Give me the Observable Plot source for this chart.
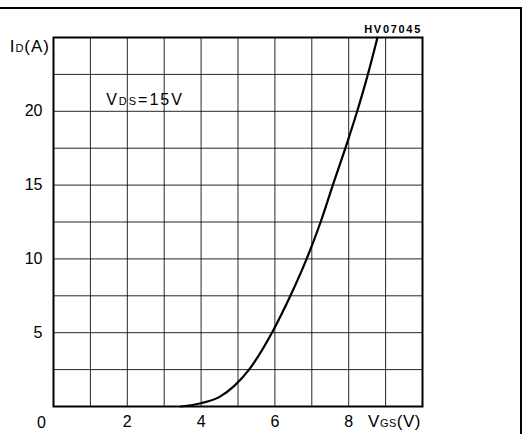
<!DOCTYPE html>
<html>
<head>
<meta charset="utf-8">
<script src="https://cdn.jsdelivr.net/npm/d3@7"></script>
<script src="https://cdn.jsdelivr.net/npm/@observablehq/plot@0.6"></script>
<style>
  html, body { margin: 0; padding: 0; background: #fff; overflow: hidden; }
  #wrap { position: relative; width: 527px; height: 434px; overflow: hidden; }
  #outer { position: absolute; left: -10px; top: 7px; width: 530px; height: 500px;
           border-top: 2px solid #000; border-right: 2px solid #000; pointer-events: none; }
  svg { position: absolute; left: 0; top: 0; }
</style>
</head>
<body>
<div id="wrap"><div id="outer"></div></div>
<script>
// Transfer characteristic: drain current vs gate-source voltage (VDS = 15 V)
const vgs = [3.45, 4.0, 4.5, 4.9, 5.3, 5.92, 6.42, 6.86, 7.24, 7.57, 7.91, 8.23, 8.52, 8.78];
const idA = [0, 0.22, 0.65, 1.4, 2.5, 5, 7.5, 10, 12.5, 15, 17.5, 20, 22.5, 25];

const xTicks = [2, 4, 6, 8];
const yTicks = [5, 10, 15, 20];
const xGrid = [1, 2, 3, 4, 5, 6, 7, 8, 9];
const yGrid = [2.5, 5, 7.5, 10, 12.5, 15, 17.5, 20, 22.5];
const originLabel = ["0"];

const data = vgs.map((v, i) => ({v, i: idA[i]}));
const font = "'Liberation Sans', Arial, Helvetica, sans-serif";

const chart = Plot.plot({
  width: 527,
  height: 434,
  marginLeft: 53,
  marginRight: 105,
  marginTop: 37,
  marginBottom: 28,
  x: {domain: [0, 10]},
  y: {domain: [0, 25]},
  style: {fontFamily: font, fontSize: "16px", background: "transparent", color: "#000"},
  marks: [
    Plot.gridX(xGrid, {stroke: "#000", strokeOpacity: 0.85, strokeWidth: 1}),
    Plot.gridY(yGrid, {stroke: "#000", strokeOpacity: 0.85, strokeWidth: 1}),
    Plot.axisX(xTicks, {tickSize: 0, tickPadding: 9, label: null, fontSize: 16}),
    Plot.axisY(yTicks, {tickSize: 0, tickPadding: 11, label: null, fontSize: 16}),
    Plot.text(originLabel, {x: 0, y: 0, text: d => d, dx: -12, dy: 16, fontSize: 16}),
    Plot.line(data, {x: "v", y: "i", curve: "monotone-x", stroke: "#000", strokeWidth: 2.2}),
    Plot.frame({stroke: "#000", strokeWidth: 2})
  ]
});

document.getElementById("wrap").appendChild(chart);

const xs = chart.scale("x"), ys = chart.scale("y");
const svg = d3.select(chart);

function label(parts, x, y, anchor, extra = {}) {
  const t = svg.append("text")
    .attr("x", x).attr("y", y)
    .attr("text-anchor", anchor)
    .attr("dy", "0.36em")
    .attr("font-family", font)
    .attr("font-size", extra.size || 16)
    .attr("fill", "#000");
  if (extra.weight) t.attr("font-weight", extra.weight);
  if (extra.spacing) t.attr("letter-spacing", extra.spacing);
  for (const [s, sub] of parts) {
    const ts = t.append("tspan").text(s);
    if (sub) ts.attr("font-size", 11);
  }
  return t;
}

// y-axis title
label([["I", false], ["D", true], ["(A)", false]], xs.apply(0) - 3, ys.apply(25) + 9, "end", {size: 17, spacing: 1});
// x-axis title
label([["V", false], ["GS", true], ["(V)", false]], xs.apply(10) - 1, ys.apply(0) + 15, "end", {size: 17, spacing: 0.5});
// condition annotation
label([["V", false], ["DS", true], ["=15V", false]], xs.apply(1.44), ys.apply(20.8), "start", {spacing: 2});
// figure code
label([["HV07045", false]], xs.apply(10), ys.apply(25) - 8, "end", {size: 11, weight: "bold", spacing: 1.7});
</script>
</body>
</html>
